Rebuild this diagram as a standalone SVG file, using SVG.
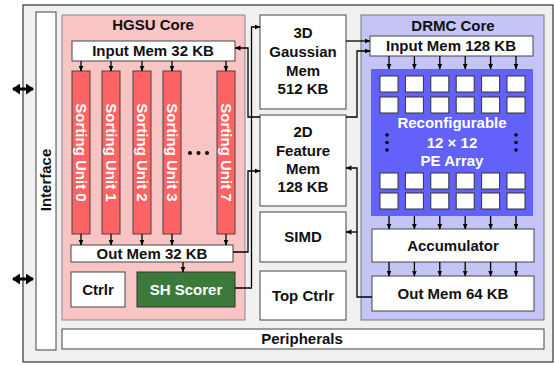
<svg xmlns="http://www.w3.org/2000/svg" width="555" height="365" viewBox="0 0 555 365">
<style>
text{font-family:"Liberation Sans",Arial,sans-serif;font-weight:bold;font-size:15px;fill:#111;text-anchor:middle}
.w{fill:#fff}
.box{fill:#fff;stroke:#444;stroke-width:1}
.su{fill:#ff6464;stroke:#444;stroke-width:1}
.pe{fill:#fff;stroke:#333;stroke-width:1}
.a{fill:none;stroke:#000;stroke-width:1.3;marker-end:url(#ah)}
.dot{fill:#000}
</style>
<defs>
<marker id="ah" markerUnits="userSpaceOnUse" markerWidth="6" markerHeight="6" refX="5.5" refY="3" orient="auto"><path d="M0,0.5 L6,3 L0,5.5 z" fill="#000"/></marker>
<marker id="bh" markerUnits="userSpaceOnUse" markerWidth="8" markerHeight="11" refX="7" refY="5.5" orient="auto-start-reverse"><path d="M0,0 L8,5.5 L0,11 z" fill="#000"/></marker>
</defs>
<g id="chip"><rect x="23" y="5" width="530" height="357" fill="#f0f0f0" stroke="#333" stroke-width="1.2"/></g>
<g id="interface"><rect x="36" y="12" width="20" height="338" class="box"/><text transform="translate(51,180) rotate(-90)">Interface</text></g>
<g id="io"><line x1="13" y1="89" x2="33" y2="89" stroke="#000" stroke-width="3" marker-start="url(#bh)" marker-end="url(#bh)"/><line x1="13" y1="279" x2="33" y2="279" stroke="#000" stroke-width="3" marker-start="url(#bh)" marker-end="url(#bh)"/></g>
<g id="hgsu">
<rect x="62" y="15" width="183" height="305" fill="#f8c4c4" stroke="#888" stroke-width="1"/>
<text x="153" y="30">HGSU Core</text>
<g id="hgsu-in"><rect x="72" y="41" width="163" height="20" class="box"/><text x="153" y="56">Input Mem 32 KB</text></g>
<g id="su0"><rect x="72" y="71" width="18" height="163" class="su"/><text class="w" transform="translate(81,152.5) rotate(90)" dy="5">Sorting Unit 0</text></g>
<g id="su1"><rect x="102" y="71" width="18" height="163" class="su"/><text class="w" transform="translate(111,152.5) rotate(90)" dy="5">Sorting Unit 1</text></g>
<g id="su2"><rect x="133" y="71" width="18" height="163" class="su"/><text class="w" transform="translate(142,152.5) rotate(90)" dy="5">Sorting Unit 2</text></g>
<g id="su3"><rect x="163" y="71" width="18" height="163" class="su"/><text class="w" transform="translate(172,152.5) rotate(90)" dy="5">Sorting Unit 3</text></g>
<g id="su7"><rect x="217" y="71" width="18" height="163" class="su"/><text class="w" transform="translate(226,152.5) rotate(90)" dy="5">Sorting Unit 7</text></g>
<g id="ellipsis"><circle cx="190" cy="153" r="2" class="dot"/><circle cx="198.5" cy="153" r="2" class="dot"/><circle cx="207" cy="153" r="2" class="dot"/></g>
<g id="hgsu-out"><rect x="71" y="245" width="162" height="17" class="box"/><text x="152" y="259">Out Mem 32 KB</text></g>
<g id="ctrlr"><rect x="71" y="272" width="54" height="35" class="box"/><text x="98" y="295">Ctrlr</text></g>
<g id="sh"><rect x="137" y="272" width="98" height="35" fill="#3c7a3c" stroke="#333" stroke-width="1"/><text class="w" x="186" y="295">SH Scorer</text></g>
</g>
<g id="gauss"><rect x="260" y="15" width="86" height="94" class="box"/><text x="303" y="38">3D</text><text x="303" y="57">Gaussian</text><text x="303" y="76">Mem</text><text x="303" y="94">512 KB</text></g>
<g id="feat"><rect x="260" y="115" width="86" height="91" class="box"/><text x="303" y="137">2D</text><text x="303" y="156">Feature</text><text x="303" y="174">Mem</text><text x="303" y="192">128 KB</text></g>
<g id="simd"><rect x="260" y="212" width="86" height="50" class="box"/><text x="303" y="242">SIMD</text></g>
<g id="topctrl"><rect x="260" y="271" width="86" height="49" class="box"/><text x="303" y="301">Top Ctrlr</text></g>
<g id="drmc">
<rect x="361" y="15" width="183" height="305" fill="#c4c4f6" stroke="#777" stroke-width="1"/>
<text x="453" y="31">DRMC Core</text>
<g id="drmc-in"><rect x="370" y="36" width="163" height="20" class="box"/><text x="451" y="51">Input Mem 128 KB</text></g>
<g id="pe-array">
<rect x="371" y="69" width="162" height="147" fill="#6262fa"/>
<g id="pe-cells">
<rect x="380" y="76" width="18" height="16" class="pe"/><rect x="405.4" y="76" width="18" height="16" class="pe"/><rect x="430.8" y="76" width="18" height="16" class="pe"/><rect x="456.2" y="76" width="18" height="16" class="pe"/><rect x="481.6" y="76" width="18" height="16" class="pe"/><rect x="507" y="76" width="18" height="16" class="pe"/>
<rect x="380" y="97" width="18" height="16" class="pe"/><rect x="405.4" y="97" width="18" height="16" class="pe"/><rect x="430.8" y="97" width="18" height="16" class="pe"/><rect x="456.2" y="97" width="18" height="16" class="pe"/><rect x="481.6" y="97" width="18" height="16" class="pe"/><rect x="507" y="97" width="18" height="16" class="pe"/>
<rect x="380" y="173" width="18" height="16" class="pe"/><rect x="405.4" y="173" width="18" height="16" class="pe"/><rect x="430.8" y="173" width="18" height="16" class="pe"/><rect x="456.2" y="173" width="18" height="16" class="pe"/><rect x="481.6" y="173" width="18" height="16" class="pe"/><rect x="507" y="173" width="18" height="16" class="pe"/>
<rect x="380" y="193" width="18" height="16" class="pe"/><rect x="405.4" y="193" width="18" height="16" class="pe"/><rect x="430.8" y="193" width="18" height="16" class="pe"/><rect x="456.2" y="193" width="18" height="16" class="pe"/><rect x="481.6" y="193" width="18" height="16" class="pe"/><rect x="507" y="193" width="18" height="16" class="pe"/>
</g>
<text class="w" x="452" y="128">Reconfigurable</text>
<text class="w" x="452" y="148">12 × 12</text>
<text class="w" x="452" y="166">PE Array</text>
<circle cx="387" cy="135" r="1.8" class="dot"/><circle cx="387" cy="142.5" r="1.8" class="dot"/><circle cx="387" cy="150" r="1.8" class="dot"/>
<circle cx="516" cy="135" r="1.8" class="dot"/><circle cx="516" cy="142.5" r="1.8" class="dot"/><circle cx="516" cy="150" r="1.8" class="dot"/>
</g>
<g id="acc"><rect x="372" y="229" width="162" height="33" class="box"/><text x="453" y="251">Accumulator</text></g>
<g id="drmc-out"><rect x="372" y="276" width="162" height="35" class="box"/><text x="453" y="299">Out Mem 64 KB</text></g>
</g>
<g id="peripherals"><rect x="62" y="329" width="482" height="20" class="box"/><text x="302" y="344">Peripherals</text></g>
<g id="connectors">
<line class="a" x1="81" y1="61" x2="81" y2="71"/><line class="a" x1="111" y1="61" x2="111" y2="71"/><line class="a" x1="142" y1="61" x2="142" y2="71"/><line class="a" x1="172" y1="61" x2="172" y2="71"/><line class="a" x1="226" y1="61" x2="226" y2="71"/>
<line class="a" x1="81" y1="234" x2="81" y2="245"/><line class="a" x1="111" y1="234" x2="111" y2="245"/><line class="a" x1="142" y1="234" x2="142" y2="245"/><line class="a" x1="172" y1="234" x2="172" y2="245"/><line class="a" x1="226" y1="234" x2="226" y2="245"/>
<line class="a" x1="183" y1="262" x2="183" y2="272"/>
<polyline class="a" points="233,252 248,252 248,171 260,171"/>
<polyline class="a" points="235,288 251.5,288 251.5,27 260,27"/>
<polyline class="a" points="260,117 248,117 248,48 235,48"/>
<line class="a" x1="346" y1="41" x2="370" y2="41"/>
<polyline class="a" points="346,117 357,117 357,51 370,51"/>
<polyline class="a" points="372,297 357,297 357,168 346,168"/>
<line class="a" x1="357" y1="232" x2="346" y2="232"/>
<line class="a" x1="389" y1="56" x2="389" y2="69"/><line class="a" x1="414.4" y1="56" x2="414.4" y2="69"/><line class="a" x1="439.8" y1="56" x2="439.8" y2="69"/><line class="a" x1="465.2" y1="56" x2="465.2" y2="69"/><line class="a" x1="490.6" y1="56" x2="490.6" y2="69"/><line class="a" x1="516" y1="56" x2="516" y2="69"/>
<line class="a" x1="389" y1="216" x2="389" y2="229"/><line class="a" x1="414.4" y1="216" x2="414.4" y2="229"/><line class="a" x1="439.8" y1="216" x2="439.8" y2="229"/><line class="a" x1="465.2" y1="216" x2="465.2" y2="229"/><line class="a" x1="490.6" y1="216" x2="490.6" y2="229"/><line class="a" x1="516" y1="216" x2="516" y2="229"/>
<line class="a" x1="389" y1="262" x2="389" y2="276"/><line class="a" x1="414.4" y1="262" x2="414.4" y2="276"/><line class="a" x1="439.8" y1="262" x2="439.8" y2="276"/><line class="a" x1="465.2" y1="262" x2="465.2" y2="276"/><line class="a" x1="490.6" y1="262" x2="490.6" y2="276"/><line class="a" x1="516" y1="262" x2="516" y2="276"/>
</g>
</svg>
